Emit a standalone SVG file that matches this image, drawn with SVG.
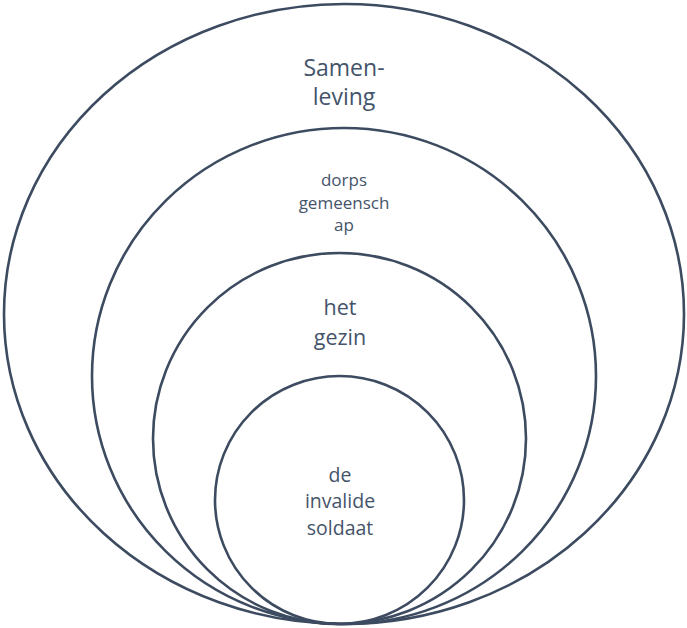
<svg xmlns="http://www.w3.org/2000/svg" width="687" height="628" viewBox="0 0 687 628">
<style>
.ring{fill:none;stroke:#3d4b60;stroke-width:2.6}
text{font-family:"Open Sans","Noto Sans","Liberation Sans",sans-serif;fill:#44546a;text-anchor:middle}
</style>
<rect width="687" height="628" fill="#ffffff"/>
<g id="samenleving">
<ellipse class="ring" cx="344" cy="314" rx="340" ry="310"/>
<text x="344" font-size="23"><tspan x="344" y="76">Samen-</tspan><tspan x="344" y="105">leving</tspan></text>
</g>
<g id="dorpsgemeenschap">
<ellipse class="ring" cx="344" cy="376" rx="252" ry="248"/>
<text font-size="17"><tspan x="344" y="186">dorps</tspan><tspan x="344" y="209">gemeensch</tspan><tspan x="344" y="231">ap</tspan></text>
</g>
<g id="gezin">
<ellipse class="ring" cx="339.5" cy="438.5" rx="186.5" ry="185.5"/>
<text font-size="21.5"><tspan x="340" y="315">het</tspan><tspan x="340" y="345">gezin</tspan></text>
</g>
<g id="soldaat">
<ellipse class="ring" cx="339.5" cy="500" rx="124.5" ry="124"/>
<text font-size="19.5"><tspan x="340" y="482">de</tspan><tspan x="340" y="508">invalide</tspan><tspan x="340" y="535">soldaat</tspan></text>
</g>
<g id="connectors"/>
</svg>
